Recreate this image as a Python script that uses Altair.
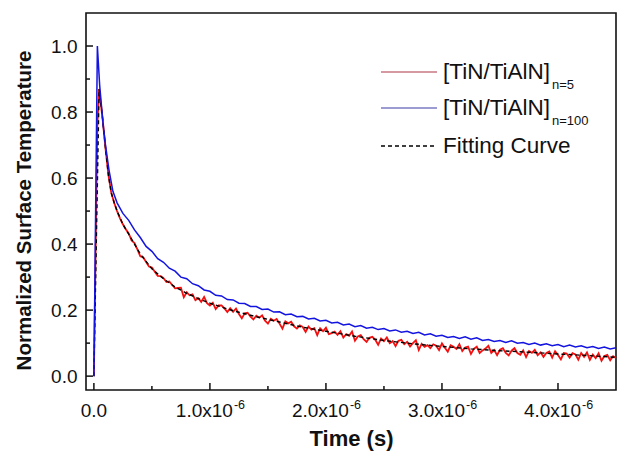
import altair as alt
import numpy as np
import pandas as pd

# ---------------- data (time in units of 1e-6 s) ----------------
# [TiN/TiAlN] n=5 (red): early part
red_t_head = [0.0, 0.03, 0.045, 0.075, 0.1, 0.125, 0.15, 0.175, 0.2, 0.225, 0.25, 0.275]
red_v_head = [0.0, 0.76, 0.87, 0.78, 0.69, 0.61, 0.555, 0.525, 0.50, 0.478, 0.46, 0.445]
# red: noisy tail sampled every 0.025 from 0.3 to 4.5
red_v_tail = [
    0.432, 0.411, 0.403, 0.384, 0.363, 0.360, 0.346, 0.332,
    0.329, 0.316, 0.304, 0.303, 0.297, 0.285, 0.287, 0.276,
    0.266, 0.267, 0.268, 0.239, 0.254, 0.245, 0.248, 0.230,
    0.236, 0.225, 0.240, 0.221, 0.214, 0.222, 0.203, 0.214,
    0.214, 0.205, 0.194, 0.206, 0.195, 0.205, 0.188, 0.175,
    0.190, 0.192, 0.180, 0.172, 0.183, 0.177, 0.184, 0.168,
    0.159, 0.174, 0.168, 0.173, 0.159, 0.144, 0.166, 0.160,
    0.165, 0.151, 0.144, 0.154, 0.149, 0.134, 0.150, 0.141,
    0.145, 0.124, 0.145, 0.136, 0.147, 0.127, 0.130, 0.135,
    0.125, 0.136, 0.117, 0.127, 0.122, 0.135, 0.107, 0.120,
    0.124, 0.112, 0.104, 0.116, 0.119, 0.110, 0.095, 0.114,
    0.106, 0.117, 0.100, 0.106, 0.091, 0.107, 0.110, 0.097,
    0.104, 0.090, 0.100, 0.109, 0.079, 0.098, 0.089, 0.094,
    0.085, 0.0965, 0.092, 0.0785, 0.099, 0.086, 0.074, 0.0935,
    0.089, 0.0825, 0.097, 0.076, 0.087, 0.0895, 0.067, 0.0825,
    0.089, 0.070, 0.078, 0.0835, 0.092, 0.0705, 0.079, 0.0635,
    0.080, 0.0845, 0.070, 0.0625, 0.077, 0.0845, 0.070, 0.0645,
    0.078, 0.0575, 0.076, 0.0705, 0.080, 0.0635, 0.072, 0.0585,
    0.070, 0.0745, 0.056, 0.0755, 0.064, 0.0505, 0.070, 0.0685,
    0.056, 0.0695, 0.066, 0.0495, 0.070, 0.0585, 0.072, 0.0495,
    0.065, 0.0545, 0.069, 0.0465, 0.061, 0.0645, 0.048, 0.0605, 0.055,
]
red_t_tail = list(np.round(0.3 + 0.025 * np.arange(len(red_v_tail)), 4))

# [TiN/TiAlN] n=100 (blue)
blue_t_head = [0.0, 0.03, 0.05, 0.08, 0.1, 0.13, 0.164, 0.2, 0.25]
blue_v_head = [0.0, 1.0, 0.88, 0.76, 0.70, 0.625, 0.56, 0.525, 0.493]
blue_v_tail = [
    0.472, 0.443, 0.420, 0.393, 0.378, 0.356, 0.345, 0.327,
    0.318, 0.300, 0.295, 0.280, 0.274, 0.261, 0.257, 0.245,
    0.243, 0.232, 0.231, 0.221, 0.220, 0.211, 0.211, 0.202,
    0.203, 0.194, 0.195, 0.186, 0.188, 0.180, 0.181, 0.173,
    0.175, 0.167, 0.169, 0.161, 0.163, 0.155, 0.158, 0.150,
    0.153, 0.145, 0.148, 0.141, 0.144, 0.137, 0.140, 0.133,
    0.136, 0.129, 0.133, 0.125, 0.128, 0.121, 0.124, 0.117,
    0.120, 0.114, 0.119, 0.112, 0.116, 0.108, 0.111, 0.105,
    0.108, 0.102, 0.107, 0.100, 0.102, 0.096, 0.100, 0.094,
    0.098, 0.092, 0.096, 0.089, 0.094, 0.088, 0.092, 0.086,
    0.090, 0.084, 0.088, 0.082, 0.086,
]
blue_t_tail = list(np.round(0.3 + 0.05 * np.arange(len(blue_v_tail)), 4))

# Fitting curve (black dashed)
fit_t = [0.0, 0.045, 0.075, 0.1, 0.125, 0.15, 0.175, 0.2, 0.25, 0.3, 0.35, 0.4, 0.5,
         0.6, 0.7, 0.8, 0.9, 1.0, 1.2, 1.4, 1.6, 1.8, 2.0, 2.25, 2.5, 2.75, 3.0,
         3.25, 3.5, 3.75, 4.0, 4.25, 4.5]
fit_v = [0.0, 0.87, 0.78, 0.69, 0.61, 0.555, 0.525, 0.50, 0.46, 0.43, 0.40, 0.37, 0.325,
         0.295, 0.270, 0.251, 0.235, 0.221, 0.198, 0.180, 0.164, 0.148, 0.136, 0.121,
         0.108, 0.098, 0.090, 0.0825, 0.077, 0.0725, 0.067, 0.0625, 0.057]

# axis ticks
x_major = [0.0, 1.0, 2.0, 3.0, 4.0]
x_minor = [0.5, 1.5, 2.5, 3.5]
y_major = [0.0, 0.2, 0.4, 0.6, 0.8, 1.0]
y_minor = [0.1, 0.3, 0.5, 0.7, 0.9]
x_labels = ["0.0", "1.0x10", "2.0x10", "3.0x10", "4.0x10"]
x_sup = "-6"

# ---------------- frames ----------------
U = 1e-6
red_df = pd.DataFrame({"t": [t * U for t in red_t_head + red_t_tail],
                       "v": red_v_head + red_v_tail})
blue_df = pd.DataFrame({"t": [t * U for t in blue_t_head + blue_t_tail],
                        "v": blue_v_head + blue_v_tail})
fit_df = pd.DataFrame({"t": [t * U for t in fit_t], "v": fit_v})

W, H = 530, 377
FONT = "Liberation Sans"
INK = "#111111"

xscale = alt.Scale(domain=[-0.068e-6, 4.5e-6], nice=False, zero=False)
yscale = alt.Scale(domain=[-0.042, 1.1], nice=False, zero=False)

XAX = alt.Axis(
    title="Time (s)", labels=False, ticks=False, domain=False, grid=False,
    titleFont=FONT, titleFontSize=22, titleFontWeight="bold", titleColor=INK,
    titlePadding=38)
YAX = alt.Axis(
    title="Normalized Surface Temperature", values=y_major, format=".1f",
    ticks=False, domain=False, grid=False, labelFont=FONT, labelFontSize=19,
    labelColor=INK, labelPadding=9, titleFont=FONT, titleFontSize=20.5,
    titleFontWeight="bold", titleColor=INK, titlePadding=16, titleY=197)
x_enc = alt.X("t:Q", scale=xscale, axis=XAX)
y_enc = alt.Y("v:Q", scale=yscale, axis=YAX)

red = alt.Chart(red_df).mark_line(color="#f21010", strokeWidth=1.8).encode(
    x=x_enc, y=y_enc, order="t:Q")
fit = alt.Chart(fit_df).mark_line(color="#000000", strokeWidth=1.4,
                                  strokeDash=[4, 3]).encode(x=x_enc, y=y_enc, order="t:Q")
blue = alt.Chart(blue_df).mark_line(color="#1414e0", strokeWidth=1.5).encode(
    x=x_enc, y=y_enc, order="t:Q")

# inward ticks
xmaj_df = pd.DataFrame({"t": [v * U for v in x_major]})
xmin_df = pd.DataFrame({"t": [v * U for v in x_minor]})
ymaj_df = pd.DataFrame({"v": y_major})
ymin_df = pd.DataFrame({"v": y_minor})
tick_xmaj = alt.Chart(xmaj_df).mark_rule(color=INK, strokeWidth=1.5).encode(
    x=x_enc, y=alt.value(H), y2=alt.value(H - 7))
tick_xmin = alt.Chart(xmin_df).mark_rule(color=INK, strokeWidth=1.5).encode(
    x=x_enc, y=alt.value(H), y2=alt.value(H - 4))
tick_ymaj = alt.Chart(ymaj_df).mark_rule(color=INK, strokeWidth=1.5).encode(
    y=y_enc, x=alt.value(0), x2=alt.value(7))
tick_ymin = alt.Chart(ymin_df).mark_rule(color=INK, strokeWidth=1.5).encode(
    y=y_enc, x=alt.value(0), x2=alt.value(4))

# x tick labels with superscript exponent
lab_df = pd.DataFrame({"t": [v * U for v in x_major], "lab": x_labels,
                       "sup": [""] + [x_sup] * 4})
lab0 = alt.Chart(lab_df.iloc[:1]).mark_text(
    font=FONT, fontSize=19, color=INK, align="center", baseline="alphabetic").encode(
    x=x_enc, y=alt.value(H + 27), text="lab:N")
labs = alt.Chart(lab_df.iloc[1:]).mark_text(
    font=FONT, fontSize=19, color=INK, align="right", baseline="alphabetic", dx=23).encode(
    x=x_enc, y=alt.value(H + 27), text="lab:N")
sups = alt.Chart(lab_df.iloc[1:]).mark_text(
    font=FONT, fontSize=12.5, color=INK, align="left", baseline="alphabetic", dx=24).encode(
    x=x_enc, y=alt.value(H + 19), text="sup:N")

# legend
leg_rows = pd.DataFrame({"k": [0]})
def leg_line(y, color, dash=None, width=1.2):
    kw = dict(color=color, strokeWidth=width)
    if dash:
        kw["strokeDash"] = dash
    return alt.Chart(leg_rows).mark_rule(**kw).encode(
        x=alt.value(295), x2=alt.value(351), y=alt.value(y))

def leg_text(x, y, txt, size):
    return alt.Chart(pd.DataFrame({"s": [txt]})).mark_text(
        font=FONT, fontSize=size, color=INK, align="left", baseline="middle").encode(
        x=alt.value(x), y=alt.value(y), text="s:N")

legend = [
    leg_line(59, "#b03545"), leg_text(357, 59, "[TiN/TiAlN]", 22.5), leg_text(466, 72, "n=5", 13),
    leg_line(95, "#3a3aa8"), leg_text(357, 95, "[TiN/TiAlN]", 22.5), leg_text(466, 108, "n=100", 13),
    leg_line(133, "#000000", dash=[4, 3], width=1.6), leg_text(357, 133, "Fitting Curve", 22.5),
]

chart = alt.layer(
    red, fit, blue, tick_xmaj, tick_xmin, tick_ymaj, tick_ymin, lab0, labs, sups, *legend
).properties(
    width=W, height=H,
    autosize=alt.AutoSizeParams(type="none"),
    padding={"left": 78, "top": 5, "right": 1, "bottom": 61},
    background="white",
).configure_view(stroke="#111111", strokeWidth=1.6)

chart.save("out.html", embed_options={"renderer": "svg", "actions": False})
